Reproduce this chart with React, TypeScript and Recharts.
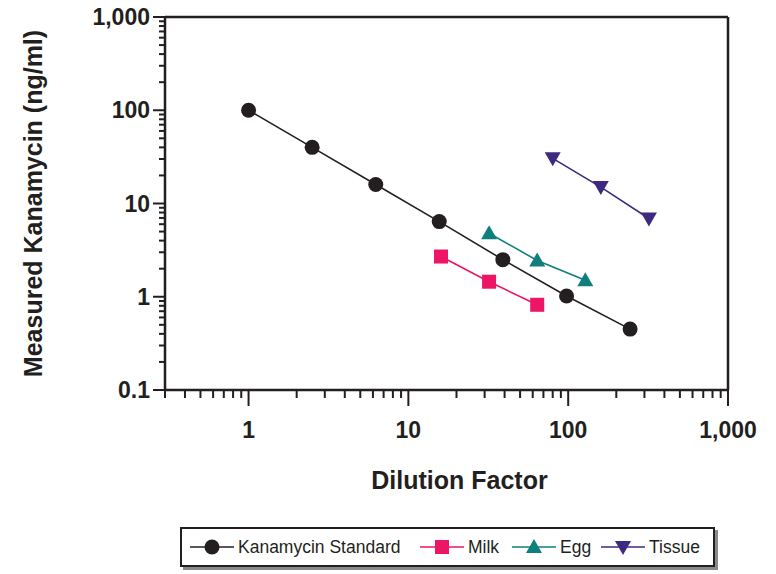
import React from "react"
import { ReferenceLine, Scatter, ScatterChart, XAxis, YAxis } from "recharts"

const INK = "#231f20"
const FONT = "'Liberation Sans', Arial, Helvetica, sans-serif"

// dilution factors and measured concentrations (ng/ml)
const standardX = [1, 2.5, 6.25, 15.6, 39, 97.7, 244]
const standardY = [100, 40, 16, 6.4, 2.5, 1.02, 0.45]
const milkX = [16, 32, 64]
const milkY = [2.7, 1.45, 0.82]
const eggX = [32, 64, 128]
const eggY = [4.8, 2.45, 1.5]
const tissueX = [80, 160, 320]
const tissueY = [30.5, 15, 6.9]

const xTicks = [
  0.3, 0.4, 0.5, 0.6, 0.7, 0.8, 0.9, 1, 2, 3, 4, 5, 6, 7, 8, 9, 10, 20, 30, 40, 50, 60, 70, 80, 90,
  100, 200, 300, 400, 500, 600, 700, 800, 900, 1000,
]
const yTicks = [
  0.1, 0.2, 0.3, 0.4, 0.5, 0.6, 0.7, 0.8, 0.9, 1, 2, 3, 4, 5, 6, 7, 8, 9, 10, 20, 30, 40, 50, 60, 70,
  80, 90, 100, 200, 300, 400, 500, 600, 700, 800, 900, 1000,
]
const majorTicks = [0.1, 1, 10, 100, 1000]

const zip = (xs: number[], ys: number[]) => xs.map((x, i) => ({ x, y: ys[i] }))

const series = [
  { name: "Kanamycin Standard", color: INK, shape: "circle", data: zip(standardX, standardY) },
  { name: "Milk", color: "#ec1566", shape: "square", data: zip(milkX, milkY) },
  { name: "Egg", color: "#0e7f7c", shape: "triangle", data: zip(eggX, eggY) },
  { name: "Tissue", color: "#3d2a7f", shape: "down", data: zip(tissueX, tissueY) },
]

// left edge of each legend entry inside the box
const legendLeft = [8, 238, 330, 419]

const label = (v: number) => (v >= 1000 ? v.toLocaleString("en-US") : String(v))

function Marker({ cx, cy, shape, color }: { cx: number; cy: number; shape: string; color: string }) {
  if (shape === "circle") return <circle cx={cx} cy={cy} r={7.5} fill={color} />
  if (shape === "square") return <rect x={cx - 7} y={cy - 7} width={14} height={14} fill={color} />
  if (shape === "triangle")
    return <polygon points={`${cx},${cy - 8} ${cx + 8},${cy + 6} ${cx - 8},${cy + 6}`} fill={color} />
  return <polygon points={`${cx - 8},${cy - 6} ${cx + 8},${cy - 6} ${cx},${cy + 8}`} fill={color} />
}

function XTick({ x, y, payload }: any) {
  const major = majorTicks.includes(payload.value)
  return (
    <g>
      <line x1={x} x2={x} y1={y} y2={y + (major ? 16 : 8)} stroke={INK} strokeWidth={2} />
      {major && payload.value >= 1 && (
        <text x={x} y={y + 48} textAnchor="middle" fontSize={23} fontWeight="bold" fill={INK} fontFamily={FONT}>
          {label(payload.value)}
        </text>
      )}
    </g>
  )
}

function YTick({ x, y, payload }: any) {
  const major = majorTicks.includes(payload.value)
  return (
    <g>
      <line x1={x - (major ? 12 : 6)} x2={x} y1={y} y2={y} stroke={INK} strokeWidth={2} />
      {major && (
        <text x={x - 15} y={y + 8} textAnchor="end" fontSize={23} fontWeight="bold" fill={INK} fontFamily={FONT}>
          {label(payload.value)}
        </text>
      )}
    </g>
  )
}

function XTitle({ viewBox }: any) {
  const { x, y, width, height } = viewBox
  return (
    <text x={x + width / 2 + 13} y={y + height - 1} textAnchor="middle" fontSize={25} fontWeight="bold" fill={INK} fontFamily={FONT}>
      Dilution Factor
    </text>
  )
}

function LegendIcon({ shape, color }: { shape: string; color: string }) {
  return (
    <svg width={44} height={20} style={{ display: "block" }}>
      <line x1={0} x2={44} y1={10} y2={10} stroke={color} strokeWidth={1.5} />
      <Marker cx={22} cy={10} shape={shape} color={color} />
    </svg>
  )
}

export default function App() {
  return (
    <div style={{ position: "absolute", left: 0, top: 0, width: 776, height: 574, background: "#fff" }}>
      <ScatterChart width={776} height={574} margin={{ top: 17, right: 48, left: 0, bottom: 84 }}>
        <XAxis
          type="number"
          dataKey="x"
          scale="log"
          domain={[0.3, 1000]}
          ticks={xTicks}
          interval={0}
          allowDataOverflow
          height={100}
          tick={<XTick />}
          tickLine={false}
          tickSize={0}
          tickMargin={0}
          axisLine={{ stroke: INK, strokeWidth: 2.5 }}
          label={<XTitle />}
        />
        <YAxis
          type="number"
          dataKey="y"
          scale="log"
          domain={[0.1, 1000]}
          ticks={yTicks}
          interval={0}
          allowDataOverflow
          width={165}
          tick={<YTick />}
          tickLine={false}
          tickSize={0}
          tickMargin={0}
          axisLine={{ stroke: INK, strokeWidth: 2.5 }}
          label={{
            value: "Measured Kanamycin (ng/ml)",
            angle: -90,
            position: "insideLeft",
            offset: 33,
            style: { fontSize: 25, fontWeight: "bold", fill: INK, fontFamily: FONT, textAnchor: "middle" },
          }}
        />
        <ReferenceLine y={1000} stroke={INK} strokeWidth={2.5} />
        <ReferenceLine x={1000} stroke={INK} strokeWidth={2.5} />
        {series.map((s) => (
          <Scatter
            key={s.name}
            name={s.name}
            data={s.data}
            line={{ stroke: s.color, strokeWidth: 1.6 }}
            shape={(p: any) => <Marker cx={p.cx} cy={p.cy} shape={s.shape} color={s.color} />}
            isAnimationActive={false}
          />
        ))}
      </ScatterChart>
      <div
        style={{
          position: "absolute",
          left: 180,
          top: 527,
          width: 531,
          height: 36,
          border: `2px solid ${INK}`,
          boxShadow: "3px 3px 0 #8a8a8a",
          fontFamily: FONT,
          fontSize: 17.5,
          color: INK,
        }}
      >
        {series.map((s, i) => (
          <div
            key={s.name}
            style={{ position: "absolute", left: legendLeft[i], top: 0, height: 36, display: "flex", alignItems: "center" }}
          >
            <LegendIcon shape={s.shape} color={s.color} />
            <span style={{ marginLeft: 4 }}>{s.name}</span>
          </div>
        ))}
      </div>
    </div>
  )
}
